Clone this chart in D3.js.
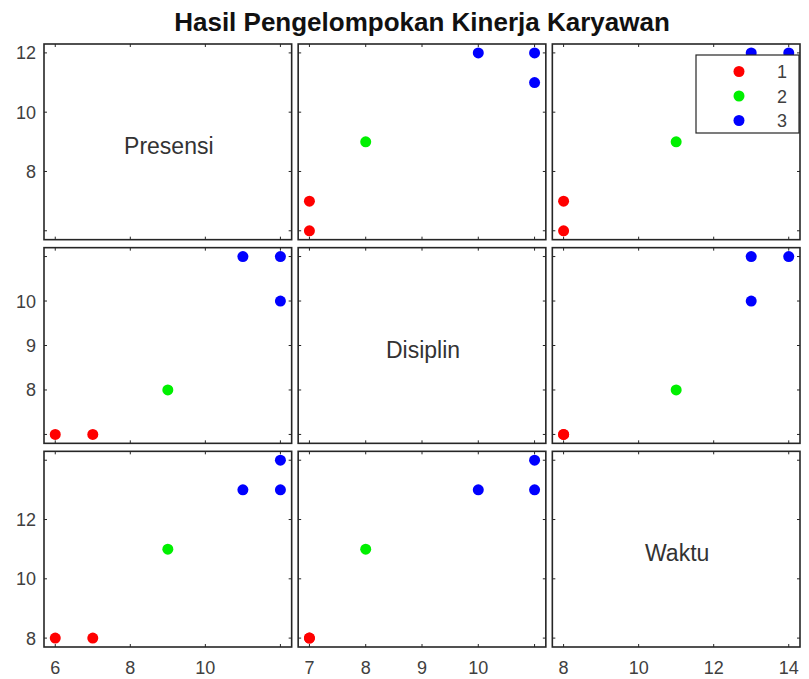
<!DOCTYPE html>
<html lang="id">
<head>
    <meta charset="UTF-8">
    <title>Hasil Pengelompokan Kinerja Karyawan</title>
    <script src="https://d3js.org/d3.v7.min.js"></script>
    <style>
        body {
            margin: 0;
            background: #fff;
            font-family: 'Liberation Sans', Arial, sans-serif;
        }
        svg { display: block; }
        .frame { fill: #fff; stroke: #262626; stroke-width: 1.6px; }
        .tick { stroke: #262626; stroke-width: 1px; }
        .ticklabel { font-size: 18px; fill: #404040; }
        .diag { font-size: 23px; fill: #333; }
        .title { font-size: 26px; font-weight: bold; fill: #111; }
    </style>
</head>
<body>
    <svg id="chart" width="809" height="679"></svg>

    <script>
        // data
        const varNames = ["Presensi", "Disiplin", "Waktu"];
        const presensi = [6, 7, 9, 11, 12, 12];
        const disiplin = [7, 7, 8, 11, 11, 10];
        const waktu    = [8, 8, 11, 13, 14, 13];
        const kelompok = [1, 1, 2, 3, 3, 3];
        const groupNames = ["1", "2", "3"];
        const groupColors = ["#ff0000", "#00f000", "#0000ff"];

        // ticks of each variable and the labels that are shown
        const tickValues = [[6, 8, 10, 12], [7, 8, 9, 10, 11], [8, 10, 12, 14]];
        const xTickLabels = [[6, 8, 10], [7, 8, 9, 10], [8, 10, 12, 14]];
        const yTickLabels = [[8, 10, 12], [8, 9, 10], [8, 10, 12]];

        const columns = [presensi, disiplin, waktu];
        const n = varNames.length;

        const svg = d3.select("#chart");
        const padL = 44, padR = 800, padT = 44, padB = 647, gapX = 6.5, gapY = 8;
        const cellW = (padR - padL - gapX * (n - 1)) / n;
        const cellH = (padB - padT - gapY * (n - 1)) / n;

        // 5% padding like matlab
        function paddedDomain(vals) {
            const [lo, hi] = d3.extent(vals);
            const pad = (hi - lo) * 0.05;
            return [lo - pad, hi + pad];
        }

        const xScales = columns.map((vals, j) => d3.scaleLinear()
            .domain(paddedDomain(vals))
            .range([padL + j * (cellW + gapX), padL + j * (cellW + gapX) + cellW]));
        const yScales = columns.map((vals, i) => d3.scaleLinear()
            .domain(paddedDomain(vals))
            .range([padT + i * (cellH + gapY) + cellH, padT + i * (cellH + gapY)]));

        const points = presensi.map((_, k) => ({ vals: columns.map(c => c[k]), g: kelompok[k] }));

        for (let i = 0; i < n; i++) {
            for (let j = 0; j < n; j++) {
                const xs = xScales[j], ys = yScales[i];
                const [x0, x1] = xs.range();
                const [y1, y0] = ys.range();
                const g = svg.append("g");

                g.append("rect").attr("class", "frame")
                    .attr("x", x0).attr("y", y0)
                    .attr("width", x1 - x0).attr("height", y1 - y0);

                // inner ticks on all four sides
                tickValues[j].forEach(t => {
                    g.append("line").attr("class", "tick")
                        .attr("x1", xs(t)).attr("x2", xs(t)).attr("y1", y1).attr("y2", y1 - 3);
                    g.append("line").attr("class", "tick")
                        .attr("x1", xs(t)).attr("x2", xs(t)).attr("y1", y0).attr("y2", y0 + 3);
                });
                tickValues[i].forEach(t => {
                    g.append("line").attr("class", "tick")
                        .attr("x1", x0).attr("x2", x0 + 3).attr("y1", ys(t)).attr("y2", ys(t));
                    g.append("line").attr("class", "tick")
                        .attr("x1", x1).attr("x2", x1 - 3).attr("y1", ys(t)).attr("y2", ys(t));
                });

                if (i === j) {
                    g.append("text").attr("class", "diag")
                        .attr("x", (x0 + x1) / 2 + 1).attr("y", (y0 + y1) / 2 + 12)
                        .attr("text-anchor", "middle")
                        .text(varNames[i]);
                } else {
                    g.selectAll("circle")
                        .data(points)
                        .enter().append("circle")
                        .attr("cx", d => xs(d.vals[j]))
                        .attr("cy", d => ys(d.vals[i]))
                        .attr("r", 5.5)
                        .attr("fill", d => groupColors[d.g - 1]);
                }

                if (j === 0) {
                    yTickLabels[i].forEach(t => {
                        g.append("text").attr("class", "ticklabel")
                            .attr("x", x0 - 8).attr("y", ys(t) + 6.5)
                            .attr("text-anchor", "end")
                            .text(t);
                    });
                }
                if (i === n - 1) {
                    xTickLabels[j].forEach(t => {
                        g.append("text").attr("class", "ticklabel")
                            .attr("x", xs(t)).attr("y", y1 + 26.5)
                            .attr("text-anchor", "middle")
                            .text(t);
                    });
                }
            }
        }

        // title
        svg.append("text").attr("class", "title")
            .attr("x", (padL + padR) / 2).attr("y", 31)
            .attr("text-anchor", "middle")
            .text("Hasil Pengelompokan Kinerja Karyawan");

        // legend
        const lg = svg.append("g");
        lg.append("rect")
            .attr("x", 696).attr("y", 55).attr("width", 103).attr("height", 78)
            .attr("fill", "#fff").attr("stroke", "#262626").attr("stroke-width", 1.2);
        groupNames.forEach((name, k) => {
            const cy = 71.5 + k * 24.5;
            lg.append("circle").attr("cx", 739).attr("cy", cy).attr("r", 5.5).attr("fill", groupColors[k]);
            lg.append("text").attr("class", "ticklabel")
                .attr("x", 777).attr("y", cy + 6.5)
                .text(name);
        });
    </script>
</body>
</html>
